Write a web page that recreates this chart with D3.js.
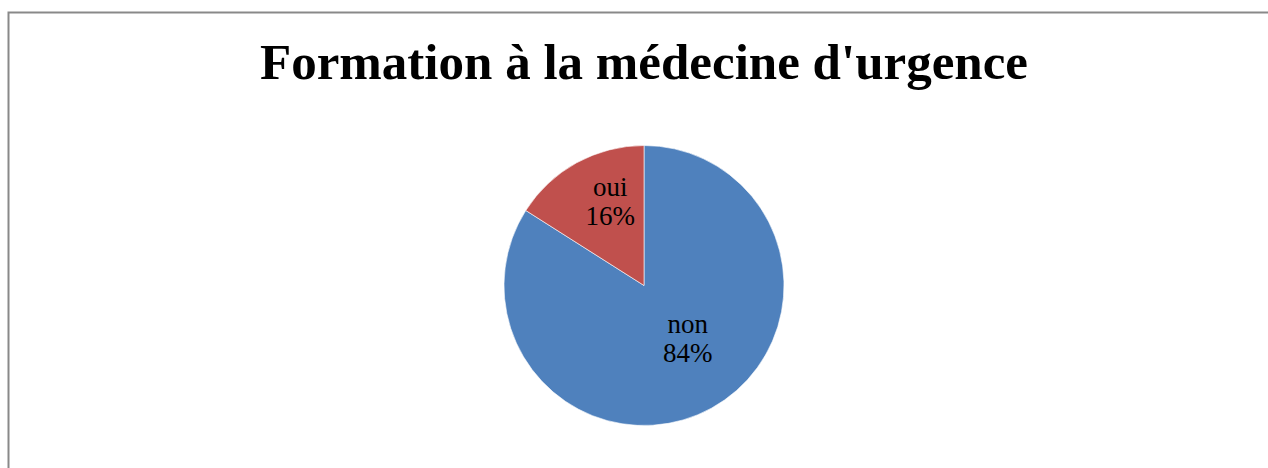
<!DOCTYPE html>
<html><head><meta charset="utf-8">
<script src="https://cdn.jsdelivr.net/npm/d3@7"></script>
<style>html,body{margin:0;padding:0;background:#fff;}svg{display:block;}</style>
</head><body>
<script>
const title = "Formation à la médecine d'urgence";
const categories = ["non", "oui"];
const values = [84, 16];
const colors = ["#4F81BD", "#C0504D"];

const W = 1268, H = 468;
const svg = d3.select("body").append("svg").attr("width", W).attr("height", H);
svg.append("rect").attr("x", 8.5).attr("y", 12.5).attr("width", W + 10).attr("height", H + 10)
  .attr("fill", "#fff").attr("stroke", "#898989").attr("stroke-width", 2);

const t = svg.append("text").attr("x", 644).attr("y", 79).attr("text-anchor", "middle")
  .attr("font-family", "Liberation Serif, serif").attr("font-weight", "bold")
  .attr("font-size", 44).attr("fill", "#000").text(title);
const tw = t.node().getComputedTextLength();
t.attr("font-size", 44 * 768 / tw);

const cx = 644, cy = 285.5, r = 140;
const pie = d3.pie().sort(null).value(d => d)(values);
const arc = d3.arc().innerRadius(0).outerRadius(r);
const g = svg.append("g").attr("transform", `translate(${cx},${cy})`);
g.selectAll("path").data(pie).join("path").attr("d", arc)
  .attr("fill", (d, i) => colors[i]).attr("stroke", "#fff").attr("stroke-width", 0.6);

const total = d3.sum(values);
const labelArc = d3.arc().innerRadius(r * 0.5).outerRadius(r * 0.5);
const nudges = [[10, -8], [0, -22]];
pie.forEach((d, i) => {
  const [cxl, cyl] = labelArc.centroid(d);
  const lx = cxl + nudges[i][0], ly = cyl + nudges[i][1];
  const tx = g.append("text").attr("text-anchor", "middle")
    .attr("font-family", "Liberation Serif, serif").attr("font-size", 27).attr("fill", "#000");
  tx.append("tspan").attr("x", lx).attr("y", ly - 6).text(categories[i]);
  tx.append("tspan").attr("x", lx).attr("y", ly + 23).text(Math.round(values[i] / total * 100) + "%");
});
</script>
</body></html>
